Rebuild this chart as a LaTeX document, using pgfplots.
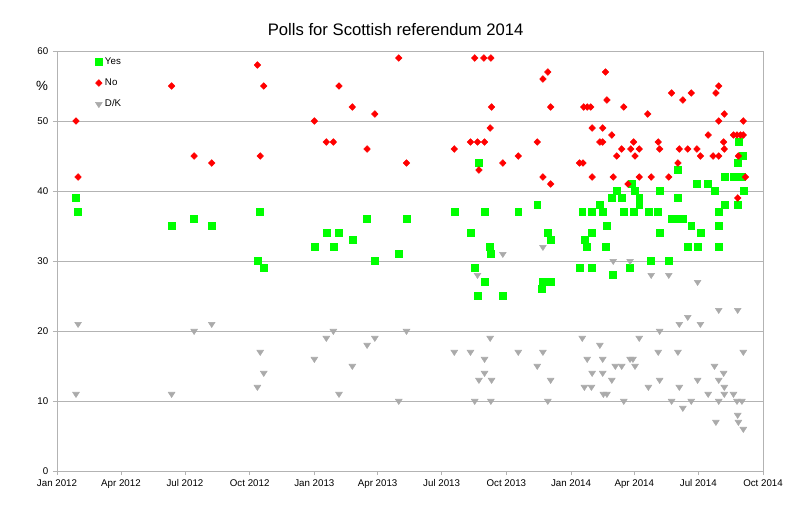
\documentclass[border=0pt]{standalone}
\usepackage{fontspec}
\setmainfont{Liberation Sans}
\usepackage{pgfplots}
\pgfplotsset{compat=1.18}
\definecolor{yescol}{HTML}{00FF00}
\definecolor{nocol}{HTML}{FF0000}
\definecolor{dkcol}{HTML}{AAAAAA}
\definecolor{gridcol}{HTML}{B3B3B3}

% x = days since 1 Jan 2012
\begin{document}
\begin{tikzpicture}
\begin{axis}[
  at={(0,0)}, anchor=south west,
  scale only axis, width=529.5pt, height=315pt,
  xmin=0, xmax=1004, ymin=0, ymax=60,
  xtick={0,91,182,274,366,456,547,639,731,821,912,1004},
  xticklabels={Jan 2012,Apr 2012,Jul 2012,Oct 2012,Jan 2013,Apr 2013,Jul 2013,Oct 2013,Jan 2014,Apr 2014,Jul 2014,Oct 2014},
  ytick={0,10,...,60},
  ymajorgrids, grid style={gridcol, line width=0.6pt},
  axis line style={gridcol, line width=0.6pt},
  tick style={gridcol, line width=0.6pt},
  tick align=outside, major tick length=3pt,
  xtick pos=left, ytick pos=left,
  tick label style={font=\fontsize{7.3}{8}\selectfont},
  /pgf/number format/assume math mode=true,
  ylabel={\%},
  ylabel style={rotate=-90, at={(axis description cs:-0.021,0.916)}, anchor=center, font=\fontsize{10}{12}\selectfont},
  legend style={at={(axis description cs:0.054,0.991)}, anchor=north west, draw=none, fill=none,
    font=\fontsize{7.3}{8}\selectfont, row sep=5.2pt, inner sep=0pt,
    /tikz/every even column/.append style={column sep=1pt}},
  legend cell align=left,
  legend image code/.code={\draw[#1] plot coordinates {(0pt,0pt)};},
]
\addplot[only marks, mark=square*, mark size=2.6pt, mark options={draw=yescol, fill=yescol}] coordinates {
(27,39) (30,37) (163,35) (195,36) (220,35) (285,30) (289,37) (294,29)
(366,32) (383,34) (393,32) (401,34) (420,33) (441,36) (452,30) (486,31) (497,36)
(565,37) (588,34) (594,29) (598,25) (600,44) (608,37) (608,27) (616,32) (617,31)
(634,25) (656,37) (683,38) (690,26) (691,27) (698,34) (702,33) (702,27)
(744,29) (747,37) (750,33) (754,32) (760,37) (760,34) (761,29) (772,38) (776,37)
(780,32) (782,35) (789,39) (791,28) (796,40) (803,39) (806,37) (815,29) (817,41)
(820,37) (822,40) (828,38) (828,39) (841,37) (845,30) (855,37) (857,40) (857,34)
(870,30) (874,36) (883,43) (883,39) (886,36) (890,36) (897,32) (902,35) (910,41)
(911,32) (915,34) (926,41) (936,40) (941,37) (941,35) (941,32) (949,42) (949,38)
(962,42) (968,44) (968,38) (969,47) (969,42) (974,42) (975,45) (976,40)
};
\addlegendentry{Yes}
\addplot[only marks, mark=diamond*, mark size=2.5pt, mark options={draw=nocol, fill=nocol, xscale=1.3}] coordinates {
(27,50) (30,42) (163,55) (195,45) (220,44) (285,58) (289,45) (294,55)
(366,50) (383,47) (393,47) (401,55) (420,52) (441,46) (452,51) (486,59) (497,44)
(565,46) (588,47) (594,59) (598,47) (600,43) (607,59) (608,47) (616,49) (617,59)
(618,52) (634,44) (656,45) (683,47) (691,56) (691,42) (698,57) (702,52) (702,41)
(743,44) (748,44) (749,52) (754,52) (759,52) (761,49) (761,42) (772,47) (776,47)
(776,49) (780,57) (782,53) (789,48) (791,42) (796,45) (803,46) (806,52) (812,41)
(816,46) (820,47) (822,45) (828,46) (828,42) (840,51) (845,42) (855,47) (857,46)
(870,42) (874,54) (883,44) (885,46) (890,53) (897,46) (902,54) (910,46) (915,45)
(926,48) (933,45) (937,54) (941,55) (941,50) (941,45) (948,47) (949,51) (949,46)
(962,48) (967,48) (969,45) (972,48) (976,48) (976,50) (979,42) (968,39)
};
\addlegendentry{No}
\addplot[only marks, mark=triangle*, mark size=2.9pt, mark options={draw=dkcol, fill=dkcol, rotate=180, yscale=0.9}] coordinates {
(30,21) (27,11) (163,11) (195,20) (220,21) (285,12) (289,17) (294,14)
(366,16) (383,19) (393,20) (401,11) (420,15) (441,18) (452,19) (486,10) (497,20)
(565,17) (588,17) (594,10) (598,28) (600,13) (608,16) (608,14) (616,19) (618,13)
(617,10) (634,31) (656,17) (683,15) (691,32) (691,17) (698,10) (702,13)
(747,19) (750,12) (754,16) (760,12) (761,14) (772,18) (776,16) (776,14) (777,11)
(782,11) (789,13) (791,30) (794,15) (803,15) (806,10) (815,16) (819,16) (822,15)
(815,30) (828,19) (841,12) (845,28) (855,17) (857,20) (857,13) (870,28) (874,10)
(883,17) (885,21) (885,12) (890,9) (897,22) (902,10) (911,27) (911,13) (915,21)
(926,11) (935,15) (937,7) (941,23) (941,13) (941,10) (948,14) (949,12) (949,11)
(962,11) (967,10) (968,23) (968,8) (969,7) (974,10) (976,17) (976,6)
};
\addlegendentry{D/K}
\end{axis}
\node[font=\fontsize{12.5}{15}\selectfont] at (254pt,330.75pt) {Polls for Scottish referendum 2014};
\pgfresetboundingbox
\path[use as bounding box] (-42.75pt,-30.75pt) rectangle (557.25pt,353.25pt);
\end{tikzpicture}
\end{document}
